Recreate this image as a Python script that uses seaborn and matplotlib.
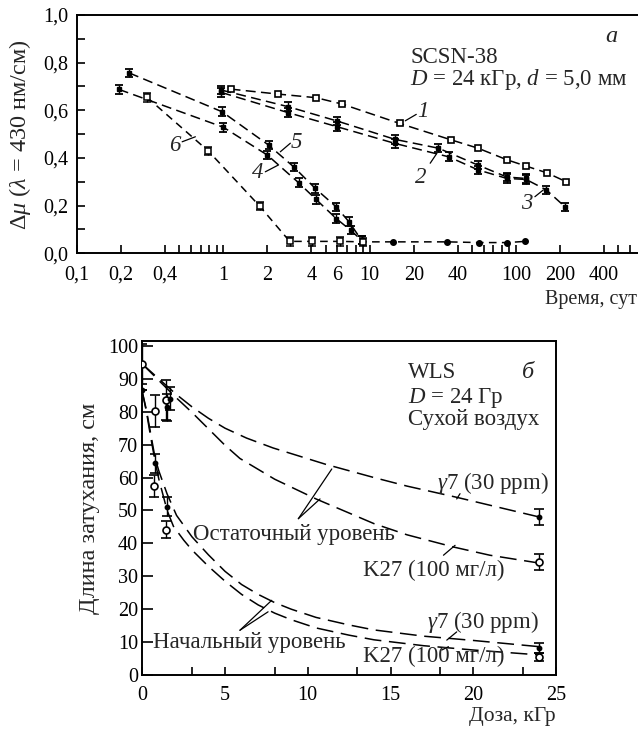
import numpy as np
import pandas as pd
import matplotlib
matplotlib.use("Agg")
import matplotlib.pyplot as plt
import seaborn as sns
from matplotlib.ticker import FixedLocator, FixedFormatter, NullFormatter

# ---------------- Panel (а): SCSN-38, recovery vs time ----------------
c1_t = [1.12, 2.38, 4.3, 6.5, 16.0, 36, 55, 87, 117, 162, 219]
c1_y = [0.689, 0.668, 0.653, 0.626, 0.545, 0.476, 0.441, 0.392, 0.366, 0.338, 0.301]
c2_t = [0.97, 2.78, 6.0, 14.9, 29.5, 55, 86.6, 117]
c2_y = [0.685, 0.615, 0.555, 0.478, 0.441, 0.370, 0.320, 0.314]
c3_t = [0.97, 2.78, 6.0, 14.9, 34.6, 55, 86.6, 117, 161, 216]
c3_y = [0.675, 0.590, 0.531, 0.461, 0.405, 0.350, 0.314, 0.310, 0.266, 0.195]
c4_t = [0.193, 1.0, 2.0, 3.27, 4.3, 5.9, 7.4, 8.8]
c4_y = [0.688, 0.529, 0.412, 0.296, 0.226, 0.146, 0.097, 0.055]
c5_t = [0.227, 0.98, 2.04, 3.02, 4.25, 5.9, 7.2, 8.8]
c5_y = [0.757, 0.594, 0.454, 0.363, 0.272, 0.195, 0.133, 0.055]
c6_t = [0.30, 0.79, 1.77, 2.84, 4.03, 6.3, 9.0, 14.5, 34, 56, 87, 115]
c6_y = [0.655, 0.429, 0.198, 0.050, 0.050, 0.050, 0.048, 0.048, 0.048, 0.045, 0.045, 0.050]
err_a = 0.018

a_xticks = [0.1, 0.2, 0.4, 1, 2, 4, 6, 10, 20, 40, 100, 200, 400]
a_xticklabels = ["0,1", "0,2", "0,4", "1", "2", "4", "6", "10", "20", "40", "100", "200", "400"]
a_xminor = [0.5, 0.6, 0.7, 0.8, 0.9, 5, 7, 8, 9, 50, 60, 70, 80, 90, 500, 600]
a_yticks = [0.0, 0.2, 0.4, 0.6, 0.8, 1.0]
a_yticklabels = ["0,0", "0,2", "0,4", "0,6", "0,8", "1,0"]
a_yminor = [0.1, 0.3, 0.5, 0.7, 0.9]

# curve number labels (x, y) and leader lines
a_labels = ["1", "2", "3", "4", "5", "6"]
a_label_x = [23.2, 22.4, 119, 1.72, 3.15, 0.463]
a_label_y = [0.597, 0.318, 0.209, 0.339, 0.465, 0.452]
a_lead_x = [(17.5, 20.8), (25.9, 28.8), (134.5, 153.6), (1.935, 2.385), (2.45, 2.87), (0.523, 0.644)]
a_lead_y = [(0.556, 0.583), (0.378, 0.420), (0.2375, 0.266), (0.342, 0.371), (0.426, 0.462), (0.468, 0.489)]

# ---------------- Panel (б): WLS, attenuation length vs dose ----------------
res_g7_d = [0, 1, 2, 3, 4, 5, 6.3, 7.9, 9.5, 11.1, 14, 16, 19, 21, 24]
res_g7_y = [94.5, 90, 85.5, 81.5, 78, 75, 72, 69, 66.5, 64, 60, 57.4, 54, 51.6, 48]
res_k27_d = [0, 1, 2, 3, 4, 5, 5.9, 8, 10.5, 14, 16, 18.8, 21, 24]
res_k27_y = [94.5, 89.5, 84.5, 79.8, 74.8, 69.8, 65.8, 59.5, 53.5, 46, 42.6, 38.9, 36.4, 34]
ini_g7_d = [0, 0.25, 0.5, 0.77, 1, 1.5, 2.07, 2.5, 3, 4, 5, 6, 7, 8, 9, 10.5, 12.5, 14, 17, 20, 24]
ini_g7_y = [86, 80.5, 73.5, 66, 62, 55, 48.5, 45.5, 42, 36.5, 31.5, 27.5, 24.5, 22, 20, 17.5, 15.2, 13.7, 11.8, 10.5, 8.6]
ini_k27_d = [0, 0.25, 0.5, 0.77, 1, 1.5, 1.88, 2.5, 3, 4, 5, 6, 7, 8, 9, 10.5, 12.5, 14, 17, 20, 24]
ini_k27_y = [86, 80, 72.5, 65, 59.5, 50, 45.2, 41, 38, 33, 28.5, 24.5, 21.3, 18.8, 16.8, 14.3, 12.1, 10.7, 8.9, 7.6, 6.1]

k27_dose = [0, 0.75, 1.45, 24, 0.7, 1.45, 24]
k27_len = [94.5, 80.3, 83.5, 34.3, 57.5, 44.2, 5.6]
k27_err = [6, 4.8, 6, 2.5, 3.3, 2.5, 1.2]
g7_dose = [0, 1.5, 1.7, 24, 0.77, 1.47, 24]
g7_len = [86.6, 81.3, 84.0, 48.0, 64.3, 51.2, 8.1]
g7_err = [0, 4, 3.5, 2.5, 3, 3, 1.5]

b_xticks = [0, 5, 10, 15, 20, 25]
b_xminor = [3, 8, 13, 18, 23]
b_yticks = [0, 10, 20, 30, 40, 50, 60, 70, 80, 90, 100]

b_texts = [r"$\gamma$7 (30 ppm)", "Остаточный уровень", "K27 (100 мг/л)",
           r"$\gamma$7 (30 ppm)", "Начальный уровень", "K27 (100 мг/л)"]
b_text_x = [17.8, 3.07, 13.34, 17.2, 0.65, 13.34]
b_text_y = [58.3, 42.7, 31.8, 16.1, 10.0, 5.5]
b_lead_x = [(9.43, 11.45), (9.43, 10.74), (5.9, 7.82), (5.9, 7.6),
            (19.0, 19.2), (18.2, 18.9), (18.4, 19.0), (18.1, 18.5)]
b_lead_y = [(47.5, 62.6), (47.5, 53.5), (13.6, 22.7), (13.6, 19.2),
            (53.5, 55.1), (36.4, 39.4), (10.6, 13.1), (7.6, 8.6)]

# ---------------- style ----------------
sns.set_theme(style="ticks")
plt.rcParams["font.family"] = ["Liberation Serif", "DejaVu Serif"]
plt.rcParams["mathtext.fontset"] = "custom"
plt.rcParams["mathtext.rm"] = "Liberation Serif"
plt.rcParams["mathtext.it"] = "Liberation Serif:italic"
plt.rcParams["mathtext.bf"] = "Liberation Serif:bold"
plt.rcParams["axes.unicode_minus"] = False

TICK_FS = 14.5
TEXT_FS = 16.5
LABEL_FS = 15.5
YLABEL_FS = 17.5

fig = plt.figure(figsize=(6.38, 7.33), dpi=100)
W, H = 638.0, 733.0
ax1 = fig.add_axes([77 / W, 1 - 253.3 / H, (638 - 77) / W, (253.3 - 15) / H])
ax2 = fig.add_axes([142.3 / W, 1 - 675 / H, (556 - 142.3) / W, (675 - 341) / H])
for ax in (ax1, ax2):
    ax.set_facecolor("white")
    for s in ax.spines.values():
        s.set_linewidth(1.4)
        s.set_color("black")


def dashed(ax, x, y, dash, lw=1.1):
    df = pd.DataFrame({"x": x, "y": y})
    sns.lineplot(data=df, x="x", y="y", ax=ax, color="black", linewidth=lw,
                 linestyle=(0, dash), sort=False, estimator=None, legend=False)


# ---------------- panel а ----------------
ax1.set_xscale("log")
ax1.set_xlim(0.1, 681)
ax1.set_ylim(0, 1.0)
dash_a = (6.5, 3.5)
for t, y in [(c1_t, c1_y), (c2_t, c2_y), (c3_t, c3_y), (c4_t, c4_y), (c5_t, c5_y)]:
    dashed(ax1, t, y, dash_a)
dashed(ax1, c6_t, c6_y, (5, 3.5))

ax1.plot(c1_t, c1_y, ls="none", marker="s", ms=5, mfc="white", mec="black", mew=1.2, zorder=4)
for t, y in [(c2_t, c2_y), (c3_t, c3_y), (c4_t, c4_y), (c5_t, c5_y)]:
    ax1.errorbar(t, y, yerr=err_a, fmt="s", ms=3.2, color="black", ecolor="black",
                 elinewidth=1.0, capsize=2.6, capthick=1.3, zorder=4)
n_open = 7
ax1.errorbar(c6_t[:n_open], c6_y[:n_open], yerr=err_a, fmt="s", ms=4, mfc="white", mec="black",
             mew=1.1, color="black", elinewidth=1.0, capsize=2.6, capthick=1.3, zorder=4)
ax1.errorbar(c6_t[n_open:], c6_y[n_open:], yerr=err_a * 0.5, fmt="o", ms=4, color="black",
             elinewidth=1.0, capsize=0, zorder=4)

for lab, lx, ly, (x0, x1), (y0, y1) in zip(a_labels, a_label_x, a_label_y, a_lead_x, a_lead_y):
    ax1.text(lx, ly, lab, fontsize=TEXT_FS, style="italic", ha="center", va="center")
    ax1.plot([x0, x1], [y0, y1], color="black", lw=0.9)

ax1.xaxis.set_major_locator(FixedLocator(a_xticks))
ax1.xaxis.set_major_formatter(FixedFormatter(a_xticklabels))
ax1.xaxis.set_minor_locator(FixedLocator(a_xminor))
ax1.xaxis.set_minor_formatter(NullFormatter())
ax1.yaxis.set_major_locator(FixedLocator(a_yticks))
ax1.yaxis.set_major_formatter(FixedFormatter(a_yticklabels))
ax1.yaxis.set_minor_locator(FixedLocator(a_yminor))
ax1.tick_params(which="both", direction="in", length=6, width=1.2, top=False, right=False,
                labelsize=TICK_FS, pad=6, colors="black")
ax1.tick_params(axis="x", pad=9)
ax1.spines["right"].set_visible(False)

ax1.set_ylabel(r"$\Delta\mu$ ($\lambda$ = 430 нм/см)", fontsize=YLABEL_FS)
ax1.yaxis.set_label_coords(-0.078, 0.5)
ax1.set_xlabel("Время, сут", fontsize=14.5, loc="right")
ax1.xaxis.set_label_coords(0.998, -0.155)

ax1.text(0.594, 0.822, "SCSN-38", transform=ax1.transAxes, fontsize=TEXT_FS, va="center", ha="left")
ax1.text(0.594, 0.728, r"$D$ = 24 кГр, $d$ = 5,0 мм", transform=ax1.transAxes,
         fontsize=TEXT_FS, va="center", ha="left")
ax1.text(0.953, 0.909, "а", transform=ax1.transAxes, fontsize=TEXT_FS + 1, style="italic",
         va="center", ha="center")

# ---------------- panel б ----------------
ax2.set_xlim(0, 25)
ax2.set_ylim(0, 101.5)
dash_b = (11, 5)
for d, y in [(res_g7_d, res_g7_y), (res_k27_d, res_k27_y), (ini_g7_d, ini_g7_y), (ini_k27_d, ini_k27_y)]:
    dashed(ax2, d, y, dash_b)

ax2.errorbar(k27_dose, k27_len, yerr=k27_err, fmt="o", ms=5, mfc="white", mec="black", mew=1.2,
             color="black", elinewidth=1.0, capsize=3.5, capthick=1.2, zorder=4)
ax2.errorbar(g7_dose, g7_len, yerr=g7_err, fmt="o", ms=3.2, color="black", elinewidth=1.0,
             capsize=3.5, capthick=1.2, zorder=4)

for txt, tx, ty in zip(b_texts, b_text_x, b_text_y):
    ax2.text(tx, ty, txt, fontsize=TEXT_FS, ha="left", va="center")
for (x0, x1), (y0, y1) in zip(b_lead_x, b_lead_y):
    ax2.plot([x0, x1], [y0, y1], color="black", lw=0.9)

ax2.text(16.05, 92.0, "WLS", fontsize=TEXT_FS, ha="left", va="center")
ax2.text(23.3, 91.8, "б", fontsize=TEXT_FS + 1, style="italic", ha="center", va="center")
ax2.text(16.05, 84.2, r"$D$ = 24 Гр", fontsize=TEXT_FS, ha="left", va="center")
ax2.text(16.05, 77.6, "Сухой воздух", fontsize=TEXT_FS, ha="left", va="center")

ax2.xaxis.set_major_locator(FixedLocator(b_xticks))
ax2.xaxis.set_minor_locator(FixedLocator(b_xminor))
ax2.yaxis.set_major_locator(FixedLocator(b_yticks))
ax2.tick_params(which="both", direction="in", length=6, width=1.2, top=False, right=False,
                labelsize=TICK_FS, colors="black")
ax2.tick_params(axis="x", pad=8)
ax2.tick_params(axis="y", pad=3, length=8)

ax2.set_ylabel("Длина затухания, см", fontsize=YLABEL_FS)
ax2.yaxis.set_label_coords(-0.102, 0.5)
ax2.set_xlabel("Доза, кГр", fontsize=LABEL_FS, loc="right")
ax2.xaxis.set_label_coords(1.0, -0.095)

fig.savefig("out.png", dpi=100, facecolor="white")
